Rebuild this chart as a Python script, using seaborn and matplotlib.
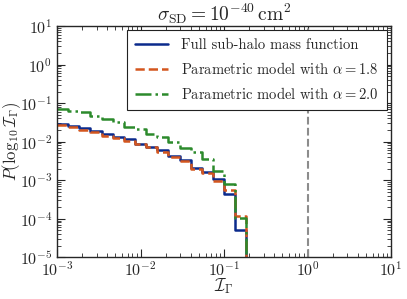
import numpy as np
import pandas as pd
import seaborn as sns
import matplotlib.pyplot as plt
from matplotlib.ticker import LogLocator, NullFormatter

# log10(I_Gamma) histogram: 30 bins between 10^-3 and 10^1
log_edges = np.linspace(-3, 1, 31)

# log10 of P per bin (bins not listed are empty)
full_shmf = [-1.53, -1.59, -1.65, -1.72, -1.81, -1.87, -1.94, -2.06, -2.14,
             -2.22, -2.36, -2.48, -2.68, -2.78, -2.96, -3.36, -4.29]
alpha_18 = [-1.56, -1.63, -1.69, -1.76, -1.85, -1.91, -1.98, -2.07, -2.15,
            -2.26, -2.39, -2.50, -2.71, -2.82, -3.01, -3.25, -3.93]
alpha_20 = [-1.14, -1.20, -1.22, -1.33, -1.41, -1.50, -1.61, -1.67, -1.80,
            -1.89, -2.02, -2.16, -2.28, -2.46, -2.75, -3.11, -3.99]

labels = ["Full sub-halo mass function",
          r"Parametric model with $\alpha = 1.8$",
          r"Parametric model with $\alpha = 2.0$"]
colors = ["#0b2a8c", "#d4561e", "#2c8a2c"]
dashes = ["-", "--", "-."]

sns.set_style("ticks")
plt.rcParams["font.family"] = ["cmr10", "DejaVu Serif"]
plt.rcParams["mathtext.fontset"] = "cm"
plt.rcParams["axes.formatter.use_mathtext"] = True
plt.rcParams["axes.unicode_minus"] = False


def to_frame(logp, name):
    p = np.zeros(len(log_edges) - 1)
    p[: len(logp)] = np.power(10.0, logp)
    # repeat last value so steps-post closes the final bin
    vals = np.append(p, p[-1])
    return pd.DataFrame({"I": 10 ** log_edges, "P": vals, "model": name})


df = pd.concat([to_frame(v, n) for v, n in zip([full_shmf, alpha_18, alpha_20], labels)])

fig = plt.figure(figsize=(4.07, 2.99), dpi=100)
ax = fig.add_axes([0.140, 0.1395, 0.821, 0.7735])

for name, c, ls in zip(labels, colors, dashes):
    sub = df[df["model"] == name]
    sns.lineplot(data=sub, x="I", y="P", ax=ax, color=c, linestyle=ls,
                 linewidth=1.8, drawstyle="steps-post", estimator=None,
                 sort=False, label=name)

ax.axvline(1.0, color="#8c8c8c", linestyle="--", linewidth=1.5)

ax.set_xscale("log")
ax.set_yscale("log")
ax.set_xlim(1e-3, 1e1)
ax.set_ylim(1e-5, 1e1)
for axis in (ax.xaxis, ax.yaxis):
    axis.set_major_locator(LogLocator(base=10, numticks=20))
    axis.set_minor_locator(LogLocator(base=10, subs=np.arange(2, 10), numticks=20))
    axis.set_minor_formatter(NullFormatter())
ax.tick_params(which="both", direction="in", top=True, right=True, labelsize=11.5)
ax.tick_params(which="major", length=6)
ax.tick_params(which="minor", length=3)
ax.tick_params(axis="x", which="major", pad=2)
for s in ax.spines.values():
    s.set_linewidth(1.0)

ax.set_xlabel(r"$\mathcal{I}_\Gamma$", fontsize=12.5)
ax.set_ylabel(r"$P(\log_{10}\mathcal{I}_\Gamma)$", fontsize=12)
ax.xaxis.set_label_coords(0.5, -0.083)
ax.yaxis.set_label_coords(-0.102, 0.5)
ax.set_title(r"$\sigma_{\rm SD} = 10^{-40}\,{\rm cm}^2$", fontsize=14, pad=4)

leg = ax.legend(loc="upper right", fontsize=10.5, frameon=True, fancybox=False,
                edgecolor="#222222", framealpha=1, handlelength=2.3,
                handletextpad=0.9, borderaxespad=0.3, labelspacing=0.6,
                borderpad=0.55)
leg.get_frame().set_linewidth(0.8)

fig.savefig("out.png", dpi=100)
